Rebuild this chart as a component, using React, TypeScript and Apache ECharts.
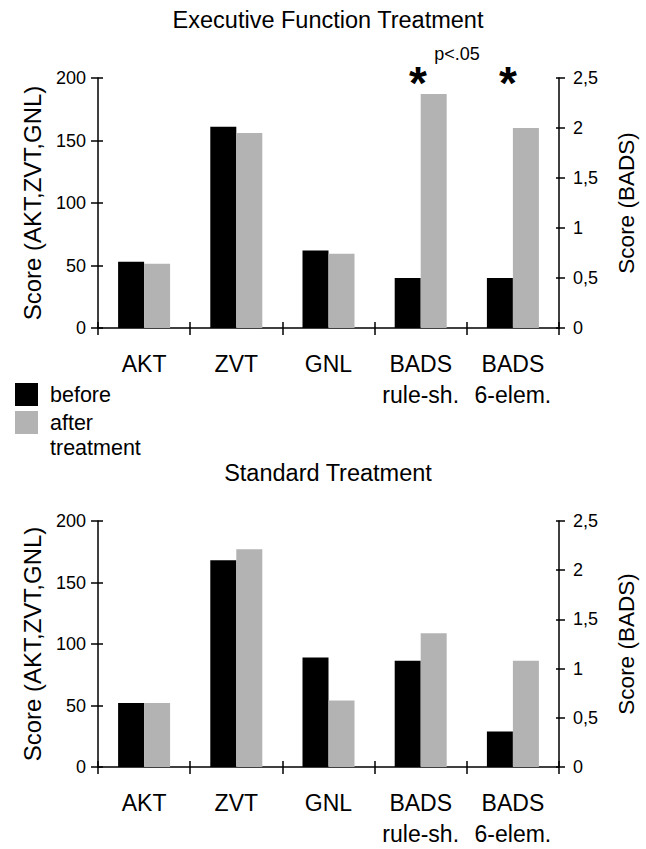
import React, { useEffect, useRef } from 'react';
import * as echarts from 'echarts';

const categories = ['AKT', 'ZVT', 'GNL', 'BADS\nrule-sh.', 'BADS\n6-elem.'];
const scoreTicks = { min: 0, max: 200, interval: 50 };
const badsTicks = { min: 0, max: 2.5, interval: 0.5 };

// Executive Function Treatment (left axis: AKT, ZVT, GNL; right axis: BADS)
const execBeforeScore = [53, 161, 62, '-', '-'];
const execAfterScore = [51.5, 156, 59.5, '-', '-'];
const execBeforeBads = ['-', '-', '-', 0.5, 0.5];
const execAfterBads = ['-', '-', '-', 2.34, 2.0];

// Standard Treatment
const stdBeforeScore = [52, 168, 89, '-', '-'];
const stdAfterScore = [52, 177, 54, '-', '-'];
const stdBeforeBads = ['-', '-', '-', 1.08, 0.36];
const stdAfterBads = ['-', '-', '-', 1.36, 1.08];

const titles = ['Executive Function Treatment', 'Standard Treatment'];
const FONT = '"Liberation Sans", Arial, Helvetica, sans-serif';
const BLACK = '#000000';
const GRAY = '#b3b3b3';

export default function App() {
  const ref = useRef<HTMLDivElement>(null);
  useEffect(() => {
    if (!ref.current) return;
    const chart = echarts.init(ref.current, undefined, { renderer: 'svg' });

    const grids = [
      { left: 98, top: 78, width: 461, height: 250 },
      { left: 98, top: 521, width: 461, height: 251 },
    ];

    const xAxes: any[] = [];
    const yAxes: any[] = [];
    grids.forEach((_, g) => {
      xAxes.push({
        type: 'category',
        gridIndex: g,
        data: categories,
        position: 'bottom',
        axisLine: { show: true, lineStyle: { color: BLACK, width: 1.5 } },
        axisTick: { show: true, interval: 0, length: 7, lineStyle: { color: BLACK, width: 1.5 } },
        axisLabel: {
          interval: 0,
          margin: 20,
          color: BLACK,
          fontSize: 23,
          lineHeight: 31,
          fontFamily: FONT,
        },
      });
      xAxes.push({
        type: 'category',
        gridIndex: g,
        data: categories,
        position: 'bottom',
        axisLine: { show: false },
        axisTick: { show: true, inside: true, interval: 0, length: 6, lineStyle: { color: BLACK, width: 1.5 } },
        axisLabel: { show: false },
      });
      yAxes.push({
        type: 'value',
        gridIndex: g,
        position: 'left',
        ...scoreTicks,
        name: 'Score (AKT,ZVT,GNL)',
        nameLocation: 'middle',
        nameGap: 54,
        nameTextStyle: { fontSize: 24, color: BLACK, fontFamily: FONT },
        splitLine: { show: false },
        axisLine: { show: true, lineStyle: { color: BLACK, width: 1.5 } },
        axisTick: { show: true, length: 7, lineStyle: { color: BLACK, width: 1.5 } },
        axisLabel: { margin: 12, color: BLACK, fontSize: 18, fontFamily: FONT },
      });
      yAxes.push({
        type: 'value',
        gridIndex: g,
        position: 'right',
        ...badsTicks,
        name: 'Score (BADS)',
        nameLocation: 'middle',
        nameGap: 56,
        nameTextStyle: { fontSize: 22.5, color: BLACK, fontFamily: FONT },
        splitLine: { show: false },
        axisLine: { show: true, lineStyle: { color: BLACK, width: 1.5 } },
        axisTick: { show: true, length: 6, lineStyle: { color: BLACK, width: 1.5 } },
        axisLabel: {
          margin: 14,
          color: BLACK,
          fontSize: 18,
          fontFamily: FONT,
          formatter: (v: number) => String(v).replace('.', ','),
        },
      });
      yAxes.push({
        type: 'value',
        gridIndex: g,
        position: 'left',
        ...scoreTicks,
        splitLine: { show: false },
        axisLine: { show: false },
        axisTick: { show: true, inside: true, length: 5, lineStyle: { color: BLACK, width: 1.5 } },
        axisLabel: { show: false },
      });
      yAxes.push({
        type: 'value',
        gridIndex: g,
        position: 'right',
        ...badsTicks,
        splitLine: { show: false },
        axisLine: { show: false },
        axisTick: { show: true, inside: true, length: 3, lineStyle: { color: BLACK, width: 1.5 } },
        axisLabel: { show: false },
      });
    });

    const bar = (name: string, data: any[], color: string, xi: number, yi: number) => ({
      type: 'bar',
      name,
      data,
      xAxisIndex: xi,
      yAxisIndex: yi,
      barWidth: 26,
      barGap: '0%',
      itemStyle: { color },
      emphasis: { disabled: true },
    });

    const series = [
      bar('before', execBeforeScore, BLACK, 0, 0),
      bar('after', execAfterScore, GRAY, 0, 0),
      bar('before', execBeforeBads, BLACK, 1, 1),
      bar('after', execAfterBads, GRAY, 1, 1),
      bar('before', stdBeforeScore, BLACK, 2, 4),
      bar('after', stdAfterScore, GRAY, 2, 4),
      bar('before', stdBeforeBads, BLACK, 3, 5),
      bar('after', stdAfterBads, GRAY, 3, 5),
    ];

    const txt = (text: string, x: number, y: number, fontSize: number, align = 'center', bold = false) => ({
      type: 'text',
      x,
      y,
      silent: true,
      style: {
        text,
        fill: BLACK,
        fontSize,
        fontFamily: FONT,
        fontWeight: bold ? 'bold' : 'normal',
        align,
        textAlign: align,
        verticalAlign: 'middle',
        textVerticalAlign: 'middle',
      },
    });

    chart.setOption({
      animation: false,
      backgroundColor: '#ffffff',
      grid: grids,
      xAxis: xAxes,
      yAxis: yAxes,
      legend: {
        orient: 'vertical',
        left: 10,
        top: 378,
        itemWidth: 23,
        itemHeight: 23,
        itemGap: 5,
        selectedMode: false,
        data: [
          { name: 'before', icon: 'rect' },
          { name: 'after', icon: 'rect' },
        ],
        textStyle: { fontSize: 21.5, lineHeight: 23, color: BLACK, fontFamily: FONT, padding: [0, 0, 0, 7] },
      },
      series,
      graphic: [
        txt(titles[0], 328, 20, 23.5),
        txt(titles[1], 328, 473, 23.5),
        txt('treatment', 50, 448, 21.5, 'left'),
        txt('p<.05', 457, 54, 18),
        txt('*', 418, 83, 46, 'center', true),
        txt('*', 508, 83, 46, 'center', true),
      ],
    });
    return () => chart.dispose();
  }, []);
  return <div ref={ref} style={{ position: 'fixed', left: 0, top: 0, width: 646, height: 849 }} />;
}
